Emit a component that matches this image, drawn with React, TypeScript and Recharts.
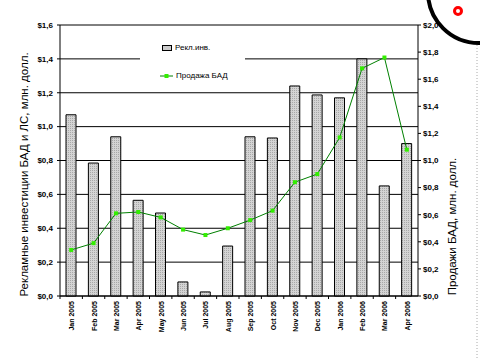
import {
  ComposedChart,
  Bar,
  Line,
  XAxis,
  YAxis,
  CartesianGrid,
  Label,
} from "recharts";

const months = [
  "Jan 2005", "Feb 2005", "Mar 2005", "Apr 2005", "May 2005", "Jun 2005",
  "Jul 2005", "Aug 2005", "Sep 2005", "Oct 2005", "Nov 2005", "Dec 2005",
  "Jan 2006", "Feb 2006", "Mar 2006", "Apr 2006",
];
// рекламные инвестиции, млн. долл. (левая ось)
const adInvest = [1.07, 0.785, 0.94, 0.565, 0.49, 0.083, 0.024, 0.295, 0.94, 0.933, 1.24, 1.187, 1.17, 1.4, 0.65, 0.9];
// продажи БАД, млн. долл. (правая ось)
const sales = [0.34, 0.39, 0.61, 0.62, 0.58, 0.49, 0.45, 0.5, 0.56, 0.63, 0.84, 0.9, 1.17, 1.68, 1.76, 1.08];
const leftTicks = [0, 0.2, 0.4, 0.6, 0.8, 1.0, 1.2, 1.4, 1.6];
const rightTicks = [0, 0.2, 0.4, 0.6, 0.8, 1.0, 1.2, 1.4, 1.6, 1.8, 2.0];

const data = months.map((m, i) => ({ month: m, invest: adInvest[i], sales: sales[i] }));

const FONT = "'Liberation Sans', Arial, sans-serif";
const money = (v: number) => "$" + v.toFixed(1).replace(".", ",");
const band = (418 - 60) / months.length;

const MonthTick = (props: any) => {
  const { x, y, payload } = props;
  return (
    <g>
      <line x1={x - band / 2} x2={x - band / 2} y1={y} y2={y + 3} stroke="#000" />
      <text
        x={x + 3}
        y={y + 5}
        transform={`rotate(-90 ${x + 3} ${y + 5})`}
        textAnchor="end"
        fontSize={7}
        fontWeight="bold"
        fontFamily={FONT}
        fill="#000"
      >
        {payload.value}
      </text>
    </g>
  );
};

const SquareDot = (props: any) => {
  const { cx, cy } = props;
  if (cx == null || cy == null) return null;
  return <rect x={cx - 2} y={cy - 2} width={4} height={4} fill="#33ee00" />;
};

function LegendBox() {
  return (
    <div style={{ position: "absolute", left: 140, top: 34, background: "#fff", width: 105, height: 56, fontFamily: FONT, fontSize: 8, color: "#000" }}>
      <div style={{ position: "absolute", left: 22, top: 9, display: "flex", alignItems: "center" }}>
        <span style={{ display: "inline-block", width: 8, height: 4, border: "1px solid #000", background: "#ccc", marginRight: 3 }} />
        Рекл.инв.
      </div>
      <div style={{ position: "absolute", left: 20, top: 37, display: "flex", alignItems: "center" }}>
        <svg width={13} height={6} style={{ marginRight: 3 }}>
          <line x1={0} x2={13} y1={3} y2={3} stroke="#008000" />
          <rect x={4.5} y={1} width={4} height={4} fill="#33ee00" />
        </svg>
        Продажа БАД
      </div>
    </div>
  );
}

export default function App() {
  return (
    <div style={{ position: "absolute", left: 0, top: 0, width: 480, height: 360, background: "#fff" }}>
      <ComposedChart width={480} height={360} data={data} margin={{ top: 25, right: 0, bottom: 0, left: 0 }}>
        <defs>
          <pattern id="dots" width={2} height={2} patternUnits="userSpaceOnUse">
            <rect width={2} height={2} fill="#d4d4d4" />
            <rect width={1} height={1} fill="#a8a8a8" />
          </pattern>
        </defs>
        <CartesianGrid yAxisId="left" vertical={false} stroke="#000" strokeWidth={1} />
        <XAxis
          dataKey="month"
          height={64}
          interval={0}
          tickLine={false}
          tickSize={0}
          tickMargin={0}
          stroke="#000"
          tick={<MonthTick />}
        />
        <YAxis
          yAxisId="left"
          width={60}
          domain={[0, 1.6]}
          ticks={leftTicks}
          tickFormatter={money}
          tickSize={3}
          tickMargin={4}
          stroke="#000"
          tick={{ fontSize: 8, fontWeight: "bold", fontFamily: FONT, fill: "#000" }}
        >
          <Label
            value="Рекламные инвестиции БАД и ЛС, млн. долл."
            angle={-90}
            position="insideLeft"
            offset={24}
            dy={14}
            style={{ fontSize: 11.5, fontFamily: FONT, fill: "#000", textAnchor: "middle" }}
          />
        </YAxis>
        <YAxis
          yAxisId="right"
          orientation="right"
          width={62}
          domain={[0, 2]}
          ticks={rightTicks}
          tickFormatter={money}
          tickSize={3}
          tickMargin={2}
          stroke="#000"
          tick={{ fontSize: 8, fontWeight: "bold", fontFamily: FONT, fill: "#000", textAnchor: "start" }}
        >
          <Label
            value="Продажи БАД, млн. долл."
            angle={-90}
            position="insideRight"
            offset={28}
            dy={66}
            style={{ fontSize: 11.5, fontFamily: FONT, fill: "#000", textAnchor: "middle" }}
          />
        </YAxis>
        <Bar
          yAxisId="left"
          dataKey="invest"
          name="Рекл.инв."
          barSize={10}
          fill="url(#dots)"
          stroke="#000"
          strokeWidth={1}
          isAnimationActive={false}
        />
        <Line
          yAxisId="right"
          dataKey="sales"
          name="Продажа БАД"
          stroke="#008000"
          strokeWidth={1}
          dot={<SquareDot />}
          activeDot={false}
          isAnimationActive={false}
        />
      </ComposedChart>
      <LegendBox />
      <svg width={480} height={360} style={{ position: "absolute", left: 0, top: 0, pointerEvents: "none" }}>
        <circle cx={479} cy={-8} r={51} fill="none" stroke="#000" strokeWidth={4} />
        <circle cx={458} cy={11} r={3.5} fill="none" stroke="#ff0000" strokeWidth={3} />
        <line x1={477} x2={477} y1={45} y2={360} stroke="#aaa" strokeDasharray="1 2" />
      </svg>
    </div>
  );
}
